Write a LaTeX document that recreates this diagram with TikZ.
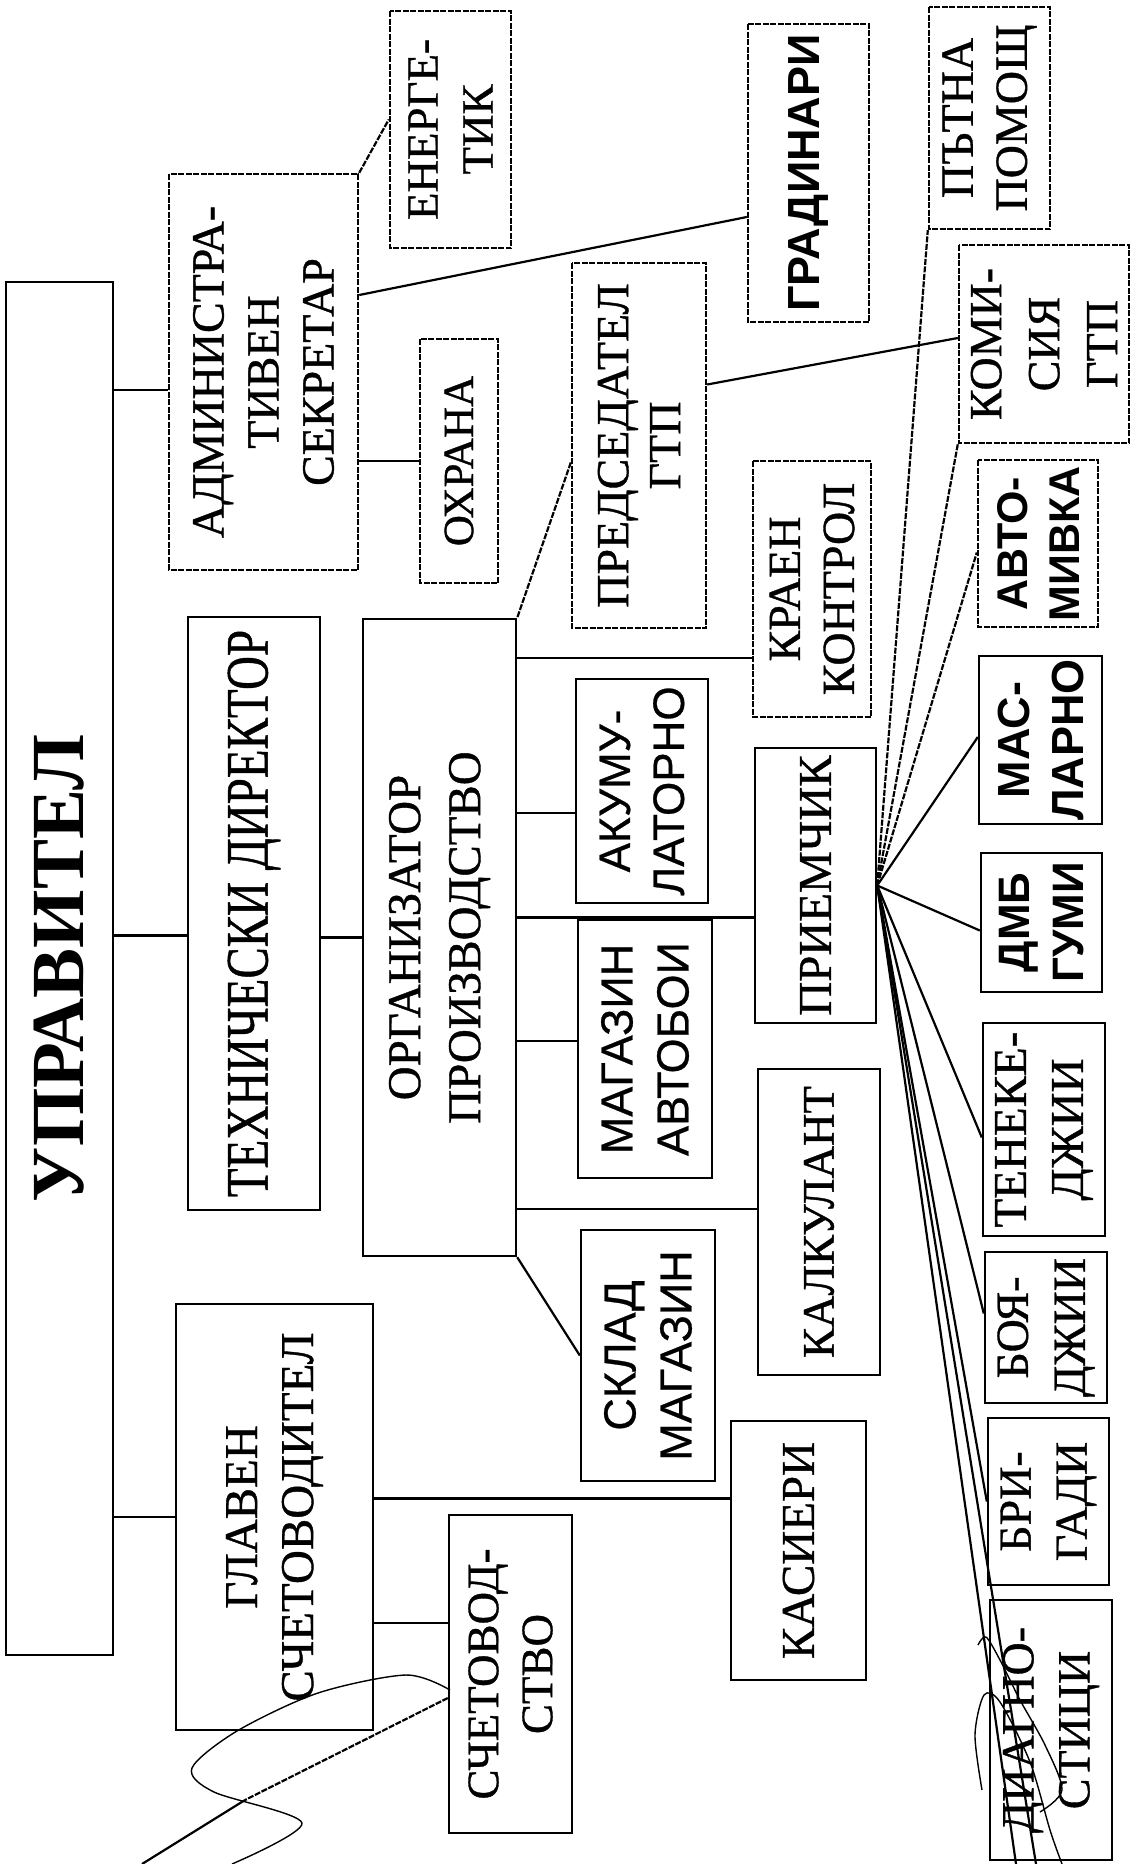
\documentclass[tikz,border=0pt]{standalone}
\usepackage{fontspec}
\usepackage{graphicx}
\setmainfont{Liberation Serif}[UprightFeatures={FakeBold=0.8}]
\newfontfamily\arial{Liberation Sans}[UprightFeatures={FakeBold=0.6}]
\newcommand{\fsz}[2]{\fontsize{#1}{#2}\selectfont}
\begin{document}
\begin{tikzpicture}[x=1pt, y=-1pt,
		box/.style={draw, line width=2.4pt, rotate=90, align=center, inner sep=0pt, font=\fsz{47}{56}},
		sbox/.style={box, font=\arial\fsz{45}{56}},
		bbox/.style={box, font=\arial\bfseries\fsz{45}{54}},
		faint/.style={dash pattern=on 6pt off 1.5pt},
		conn/.style={line width=2.2pt},
		scrib/.style={line width=1.4pt}]
	\fill[white] (0,0) rectangle (1134,1864);
	\useasboundingbox (0,0) rectangle (1134,1864);
	\node[box, minimum width=1373pt, minimum height=107pt, font=\bfseries\fsz{75}{80}] (upr) at (59.5,968.5) {УПРАВИТЕЛ};
	\node[box, faint, minimum width=396pt, minimum height=189pt, font=\fsz{46}{55}] (adm) at (263.5,372) {АДМИНИСТРА-\\ТИВЕН\\СЕКРЕТАР};
	\node[box, faint, minimum width=237pt, minimum height=121pt, font=\fsz{45}{55}] (ener) at (450.5,129.5) {ЕНЕРГЕ-\\ТИК};
	\node[box, faint, minimum width=244pt, minimum height=78pt, font=\fsz{43}{50}] (ohr) at (459,461) {ОХРАНА};
	\node[bbox, faint, minimum width=298pt, minimum height=121pt] (grad) at (808.5,173) {ГРАДИНАРИ};
	\node[box, faint, minimum width=222pt, minimum height=121pt, font=\fsz{46}{54}] (put) at (989.5,118) {ПЪТНА\\ПОМОЩ};
	\node[box, faint, minimum width=198pt, minimum height=170pt, font=\fsz{46}{58}] (kom) at (1044,344) {КОМИ-\\СИЯ\\ГТП};
	\node[box, faint, minimum width=365pt, minimum height=134pt, font=\fsz{46}{52}] (pred) at (639,445.5) {ПРЕДСЕДАТЕЛ\\ГТП};
	\node[box, faint, minimum width=256pt, minimum height=118pt, font=\fsz{46}{54}] (kraen) at (812,589) {КРАЕН\\КОНТРОЛ};
	\node[bbox, faint, minimum width=167pt, minimum height=120pt, font=\arial\bfseries\fsz{43}{52}] (avto) at (1038,543.5) {АВТО-\\МИВКА};
	\node[box, minimum width=593pt, minimum height=132pt] (tech) at (254,913.5) {\scalebox{1}[1.28]{ТЕХНИЧЕСКИ ДИРЕКТОР}};
	\node[box, minimum width=637pt, minimum height=153pt, font=\fsz{47}{60}] (org) at (439.5,937.5) {ОРГАНИЗАТОР\\ПРОИЗВОДСТВО};
	\node[sbox, minimum width=224pt, minimum height=132pt, font=\arial\fsz{44}{54}] (akum) at (642,791) {АКУМУ-\\ЛАТОРНО};
	\node[sbox, minimum width=258pt, minimum height=134pt] (mag) at (645,1049) {МАГАЗИН\\АВТОБОИ};
	\node[box, minimum width=275pt, minimum height=121pt] (priem) at (815.5,885.5) {ПРИЕМЧИК};
	\node[bbox, minimum width=168pt, minimum height=123pt] (mas) at (1040.5,740) {МАС-\\ЛАРНО};
	\node[bbox, minimum width=139pt, minimum height=121pt, font=\arial\bfseries\fsz{44}{54}] (dmb) at (1041.5,922.5) {ДМБ\\ГУМИ};
	\node[box, minimum width=213pt, minimum height=122pt, font=\fsz{47}{57}] (tene) at (1044,1129.5) {ТЕНЕКЕ-\\ДЖИИ};
	\node[box, minimum width=306pt, minimum height=122pt, font=\fsz{45}{54}] (kalk) at (819,1222) {КАЛКУЛАНТ};
	\node[sbox, minimum width=251pt, minimum height=134pt] (sklad) at (648,1355.5) {СКЛАД\\МАГАЗИН};
	\node[box, minimum width=426pt, minimum height=197pt] (glav) at (274.5,1517) {ГЛАВЕН\\СЧЕТОВОДИТЕЛ};
	\node[box, minimum width=259pt, minimum height=135pt] (kas) at (798.5,1550.5) {КАСИЕРИ};
	\node[box, minimum width=318pt, minimum height=123pt, font=\fsz{45}{54}] (sch) at (510.5,1674) {СЧЕТОВОД-\\СТВО};
	\node[box, minimum width=151pt, minimum height=122pt, font=\fsz{46}{57}] (boya) at (1046,1327.5) {БОЯ-\\ДЖИИ};
	\node[box, minimum width=167pt, minimum height=121pt, font=\fsz{46}{56}] (brig) at (1048.5,1501.5) {БРИ-\\ГАДИ};
	\node[box, minimum width=260pt, minimum height=122pt, font=\fsz{46}{56}] (diag) at (1051,1730) {ДИАГНО-\\СТИЦИ};
	\coordinate (e1) at (1016,1864);
	\coordinate (e2) at (1036,1864);
	\coordinate (s1) at (245,1800);
	\coordinate (s2) at (142,1864);
	\path[conn]
		([yshift=-18pt]adm.north) edge ([yshift=-18pt]adm.north -| upr.south)
		([yshift=-22pt]tech.north) edge ([yshift=-22pt]tech.north -| upr.south)
		(glav.north) edge (glav.north -| upr.south)
		(org.north) edge (org.north -| tech.south)
		(ohr.north) edge (ohr.north -| adm.south)
		([yshift=77pt]adm.south) edge ([yshift=-44pt]grad.north)
		([yshift=61pt]pred.south) edge ([yshift=6pt]kom.north)
		([yshift=-69pt]kraen.north) edge ([yshift=-69pt]kraen.north -| org.south)
		([yshift=-22pt]akum.north) edge ([yshift=-22pt]akum.north -| org.south)
		([yshift=-32pt]priem.north) edge ([yshift=-32pt]priem.north -| org.south)
		([yshift=8pt]mag.north) edge ([yshift=8pt]mag.north -| org.south)
		([yshift=13pt]kalk.north) edge ([yshift=13pt]kalk.north -| org.south)
		(org.south west) edge (sklad.north)
		([yshift=52pt]kas.north) edge ([yshift=52pt]kas.north -| glav.south)
		([yshift=51pt]sch.north) edge ([yshift=51pt]sch.north -| glav.south);
	\path[conn, faint]
		(adm.south east) edge ([yshift=10pt]ener.north)
		([yshift=-17pt]pred.north) edge (org.south east)
		(priem.south) edge (put.north west)
		(priem.south) edge (kom.north west)
		(priem.south) edge ([yshift=-9pt]avto.north)
		([yshift=-24pt]sch.north) edge (s1);
	\path[conn]
		(priem.south) edge ([yshift=3pt]mas.north)
		(priem.south) edge ([yshift=-8pt]dmb.north)
		(priem.south) edge ([yshift=-8pt]tene.north)
		(priem.south) edge ([yshift=14pt]boya.north)
		(priem.south) edge (brig.north)
		(priem.south) edge (e1)
		(priem.south) edge (e2)
		(s1) edge (s2);
	\draw[scrib] plot[smooth] coordinates {(450,1690) (406,1675) (318,1693) (237,1731) (192,1768) (214,1792) (302,1823) (232,1864)};
	\draw[scrib] plot[smooth] coordinates {(978,1645) (986,1637) (1000,1660) (1020,1700) (1045,1745) (1062,1790) (1040,1812)};
	\draw[scrib] plot[smooth] coordinates {(982,1790) (975,1735) (984,1695) (1000,1702) (1030,1762) (1050,1830) (1062,1864)};
\end{tikzpicture}
\end{document}
